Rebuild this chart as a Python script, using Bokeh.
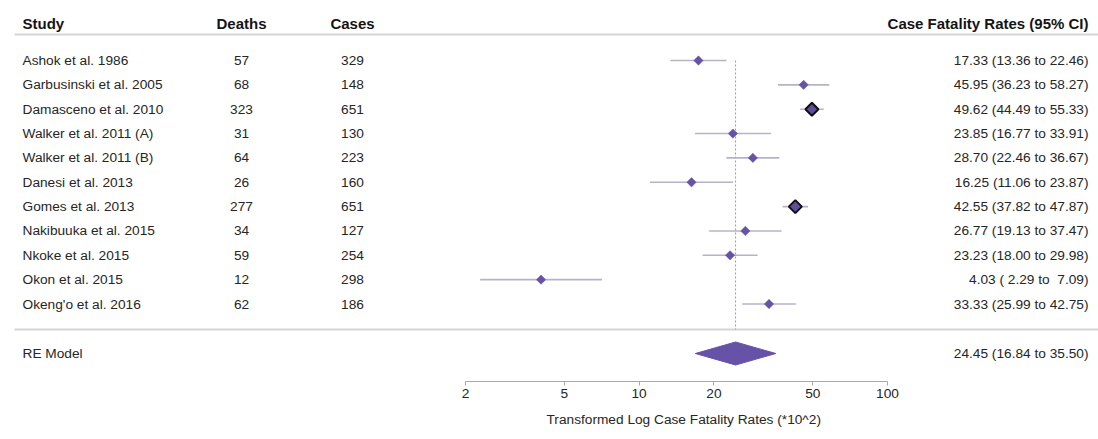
import math
from bokeh.plotting import figure
from bokeh.models import Range1d, LinearScale, FixedTicker, ColumnDataSource, Title
from bokeh.core.properties import value
from bokeh.embed import file_html
from bokeh.resources import INLINE

# ---------------- data ----------------
studies = ["Ashok et al. 1986", "Garbusinski et al. 2005", "Damasceno et al. 2010",
           "Walker et al. 2011 (A)", "Walker et al. 2011 (B)", "Danesi et al. 2013",
           "Gomes et al. 2013", "Nakibuuka et al. 2015", "Nkoke et al. 2015",
           "Okon et al. 2015", "Okeng'o et al. 2016"]
deaths = [57, 68, 323, 31, 64, 26, 277, 34, 59, 12, 62]
cases = [329, 148, 651, 130, 223, 160, 651, 127, 254, 298, 186]
cfr = [17.33, 45.95, 49.62, 23.85, 28.70, 16.25, 42.55, 26.77, 23.23, 4.03, 33.33]
ci_lo = [13.36, 36.23, 44.49, 16.77, 22.46, 11.06, 37.82, 19.13, 18.00, 2.29, 25.99]
ci_hi = [22.46, 58.27, 55.33, 33.91, 36.67, 23.87, 47.87, 37.47, 29.98, 7.09, 42.75]
re_label = "RE Model"
re_est, re_lo, re_hi = 24.45, 16.84, 35.50
x_ticks = [2, 5, 10, 20, 50, 100]
x_title = "Transformed Log Case Fatality Rates (*10^2)"
headers = ["Study", "Deaths", "Cases", "Case Fatality Rates (95% CI)"]

# ---------------- layout (pixels of the page) ----------------
W, H = 1098, 439
PAGE_L, PAGE_T = 0, 0
ROW0_Y, PITCH = 60.0, 24.35          # page y of first row and row pitch
FRAME_BOTTOM = 381.0                 # page y of x axis line
PX_AT_2, PX_PER_DEC = 465.0, 248.4   # page x of value 2, pixels per decade


def row_of(py):
    return (py - ROW0_Y) / PITCH


def val_of(px):
    return 2 * 10 ** ((px - PX_AT_2) / PX_PER_DEC)


y_top = row_of(PAGE_T)
y_bot = row_of(FRAME_BOTTOM)
x_left = val_of(PAGE_L)
x_right = val_of(PAGE_L + W)

FONT = "Liberation Sans"
TXT = "#262626"
PURPLE = "#6652a6"
CI_COL = "#b7b2c8"
RULE = "#d6d6d6"

p = figure(width=W, height=H, x_axis_type="log",
           x_range=Range1d(x_left, x_right), y_range=Range1d(y_bot, y_top),
           output_backend="svg", toolbar_location=None,
           min_border_left=0, min_border_right=0, min_border_top=0,
           min_border_bottom=int(PAGE_T + H - FRAME_BOTTOM),
           y_axis_location=None, background_fill_color="white",
           border_fill_color="white")
p.outline_line_color = None
p.xgrid.visible = False
p.ygrid.visible = False
p.extra_x_ranges = {"px": Range1d(PAGE_L, PAGE_L + W)}
p.extra_x_scales = {"px": LinearScale()}

n = len(studies)
rows = list(range(n))
sep_row = row_of(329)
re_row = row_of(353)
head_row = row_of(22.5)
head_rule = row_of(34)

# rules
p.segment(x0=[14, 14], x1=[PAGE_L + W, PAGE_L + W], y0=[head_rule, sep_row],
          y1=[head_rule, sep_row], x_range_name="px", line_color=RULE, line_width=2)

# reference dashed line
p.segment(x0=[re_est], x1=[re_est], y0=[0], y1=[sep_row], line_color="#9a9a9a",
          line_width=1, line_dash="2 2")

# CI lines
src = ColumnDataSource(dict(y=rows, est=cfr, lo=ci_lo, hi=ci_hi))
p.segment(x0="lo", x1="hi", y0="y", y1="y", source=src, line_color=CI_COL,
          line_width=1.6)

small = [i for i in rows if cases[i] <= 600]
large = [i for i in rows if cases[i] > 600]
p.scatter(x=[cfr[i] for i in small], y=small, marker="square", angle=math.pi / 4,
          size=6.6, fill_color=PURPLE, line_color=PURPLE, line_width=0.5)
p.scatter(x=[cfr[i] for i in large], y=large, marker="square", angle=math.pi / 4,
          size=9.2, fill_color="#5f4e9c", line_color="#111111", line_width=2)

# RE summary diamond
h = 11.5 / PITCH
p.patch(x=[re_lo, re_est, re_hi, re_est], y=[re_row, re_row - h, re_row, re_row + h],
        fill_color=PURPLE, line_color=PURPLE, line_width=1)

# headers
hx = [22, 241, 352, 1088]
halign = ["left", "center", "center", "right"]
for t, x, a in zip(headers, hx, halign):
    p.text(x=[x], y=[head_row], text=[t], x_range_name="px", text_align=a,
           text_baseline="middle", text_font=value(FONT), text_font_size="15px",
           text_font_style="bold", text_color="#141414")


def fmt(v):
    s = "%5.2f" % v
    return s.replace(" ", "\u00a0")


ci_text = [("%s (%s to %s)" % (fmt(c), fmt(l), fmt(u))).lstrip("\u00a0")
           for c, l, u in zip(cfr, ci_lo, ci_hi)]
re_text = "%s (%s to %s)" % (fmt(re_est), fmt(re_lo), fmt(re_hi))

col_src = ColumnDataSource(dict(y=rows + [re_row], study=studies + [re_label],
                                deaths=[str(d) for d in deaths] + [""],
                                cases=[str(c) for c in cases] + [""],
                                ci=ci_text + [re_text]))
common = dict(source=col_src, x_range_name="px", text_baseline="middle",
              text_font=value(FONT), text_font_size="13.7px", text_color=TXT)
p.text(x=22, y="y", text="study", text_align="left", **common)
p.text(x=241, y="y", text="deaths", text_align="center", **common)
p.text(x=352, y="y", text="cases", text_align="center", **common)
p.text(x=1088, y="y", text="ci", text_align="right", **common)

# x axis
ax = p.xaxis[0]
ax.ticker = FixedTicker(ticks=x_ticks)
ax.bounds = (x_ticks[0], x_ticks[-1])
ax.major_label_overrides = {t: str(t) for t in x_ticks}
ax.minor_tick_line_color = None
ax.major_tick_in = 0
ax.major_tick_out = 4
ax.major_label_standoff = 3
ax.axis_line_color = "#a8a8a8"
ax.major_tick_line_color = "#a8a8a8"
ax.major_label_text_font = FONT
ax.major_label_text_font_size = "13.7px"
ax.major_label_text_color = TXT

# axis title under the axis span
p.add_layout(Title(text=x_title, align="left", offset=546 - PAGE_L,
                   text_font=FONT, text_font_size="13.7px", text_font_style="normal",
                   text_color=TXT, standoff=19), "below")

open("out.html", "w").write(file_html(p, INLINE))
